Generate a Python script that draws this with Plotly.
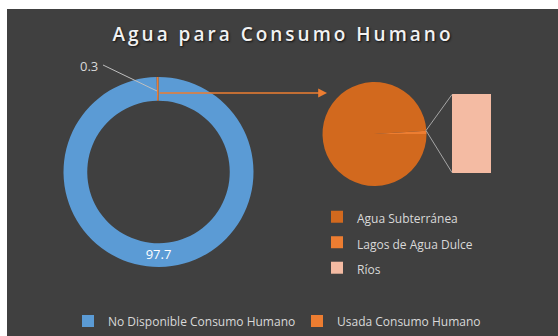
import plotly.graph_objects as go

W, H = 558, 336

# ---- data ----
title_text = "Agua para Consumo Humano"
main_labels = ["No Disponible Consumo Humano", "Usada Consumo Humano"]
main_values = [97.7, 0.3]
main_colors = ["#5b9bd5", "#ed7d31"]

sub_labels = ["Agua Subterránea", "Lagos de Agua Dulce"]
sub_values = [30.1, 0.3]
sub_colors = ["#d2691e", "#ed7d31"]

bar_label = "Ríos"
bar_value = [0.01]
bar_color = "#f4bba3"

BG = "#404040"
TXT = "#d9d9d9"


def fx(px):
    return px / W


def fy(py):
    return 1 - py / H


fig = go.Figure()

# Donut (main)
fig.add_trace(go.Pie(
    labels=main_labels, values=main_values, hole=0.75, sort=False,
    direction="clockwise", rotation=0,
    marker=dict(colors=main_colors, line=dict(width=0)),
    text=[str(main_values[0]), ""], textinfo="text",
    textposition=["inside", "none"], insidetextorientation="horizontal",
    textfont=dict(family="Open Sans", size=13, color="#ffffff"),
    domain=dict(x=[fx(63.5), fx(253.5)], y=[fy(267), fy(77)]),
    legend="legend", hoverinfo="skip",
))

# Secondary pie (bar-of-pie)
fig.add_trace(go.Pie(
    labels=[f"<span style='font-size:12px'>{l}</span>" for l in sub_labels],
    values=sub_values, sort=False, direction="clockwise", rotation=90,
    marker=dict(colors=sub_colors, line=dict(width=0)),
    textinfo="none",
    domain=dict(x=[fx(322.5), fx(426.5)], y=[fy(186), fy(82)]),
    legend="legend2", hoverinfo="skip",
))

# Bar of the bar-of-pie
fig.add_trace(go.Bar(
    x=[0], y=bar_value, width=1, name=f"<span style='font-size:12px'>{bar_label}</span>",
    marker=dict(color=bar_color, line=dict(width=0)),
    legend="legend2", showlegend=True, hoverinfo="skip",
))

fig.update_layout(
    width=W, height=H,
    margin=dict(l=0, r=0, t=0, b=0),
    paper_bgcolor="#ffffff",
    plot_bgcolor="rgba(0,0,0,0)",
    xaxis=dict(domain=[fx(452), fx(491)], range=[-0.5, 0.5], visible=False, fixedrange=True),
    yaxis=dict(domain=[fy(173), fy(94)], range=[0, bar_value[0]], visible=False, fixedrange=True),
    title=dict(
        text=f"<span style='letter-spacing:3px'>{title_text}</span>",
        x=fx(283), xanchor="center", y=fy(34), yanchor="middle",
        font=dict(family="Open Sans", size=19, weight=600, color="#f2f2f2",
                  shadow="1px 1px 2px #111111"),
    ),
    legend=dict(
        orientation="h", x=fx(68), xanchor="left", y=fy(306.5), yanchor="top",
        font=dict(family="Open Sans", size=12, color=TXT),
        bgcolor="rgba(0,0,0,0)", entrywidth=184, entrywidthmode="pixels",
    ),
    legend2=dict(
        orientation="v", x=fx(317), xanchor="left", y=fy(199), yanchor="top",
        font=dict(family="Open Sans", size=17.3, color=TXT),
        bgcolor="rgba(0,0,0,0)",
    ),
    shapes=[
        dict(type="rect", xref="paper", yref="paper", x0=fx(7), x1=1, y0=0, y1=fy(9),
             fillcolor=BG, line=dict(width=0), layer="below"),
        dict(type="line", xref="paper", yref="paper", x0=fx(426), y0=fy(130.5),
             x1=fx(452), y1=fy(94.5), line=dict(color="#a6a6a6", width=1)),
        dict(type="line", xref="paper", yref="paper", x0=fx(426), y0=fy(130.5),
             x1=fx(452), y1=fy(172.5), line=dict(color="#a6a6a6", width=1)),
        dict(type="line", xref="paper", yref="paper", x0=fx(103), y0=fy(65),
             x1=fx(157), y1=fy(91), line=dict(color="#bfbfbf", width=1)),
    ],
    annotations=[
        dict(text=str(main_values[1]), xref="paper", yref="paper", x=fx(100), y=fy(66),
             xanchor="right", yanchor="middle", showarrow=False,
             font=dict(family="Open Sans", size=13, color=TXT)),
        dict(text="", xref="paper", yref="paper", x=fx(327), y=fy(93),
             ax=158 - 327, ay=0, showarrow=True, arrowhead=2, arrowsize=1.1,
             arrowwidth=1.6, arrowcolor="#ed7d31"),
    ],
)

fig.write_html("out.html")
